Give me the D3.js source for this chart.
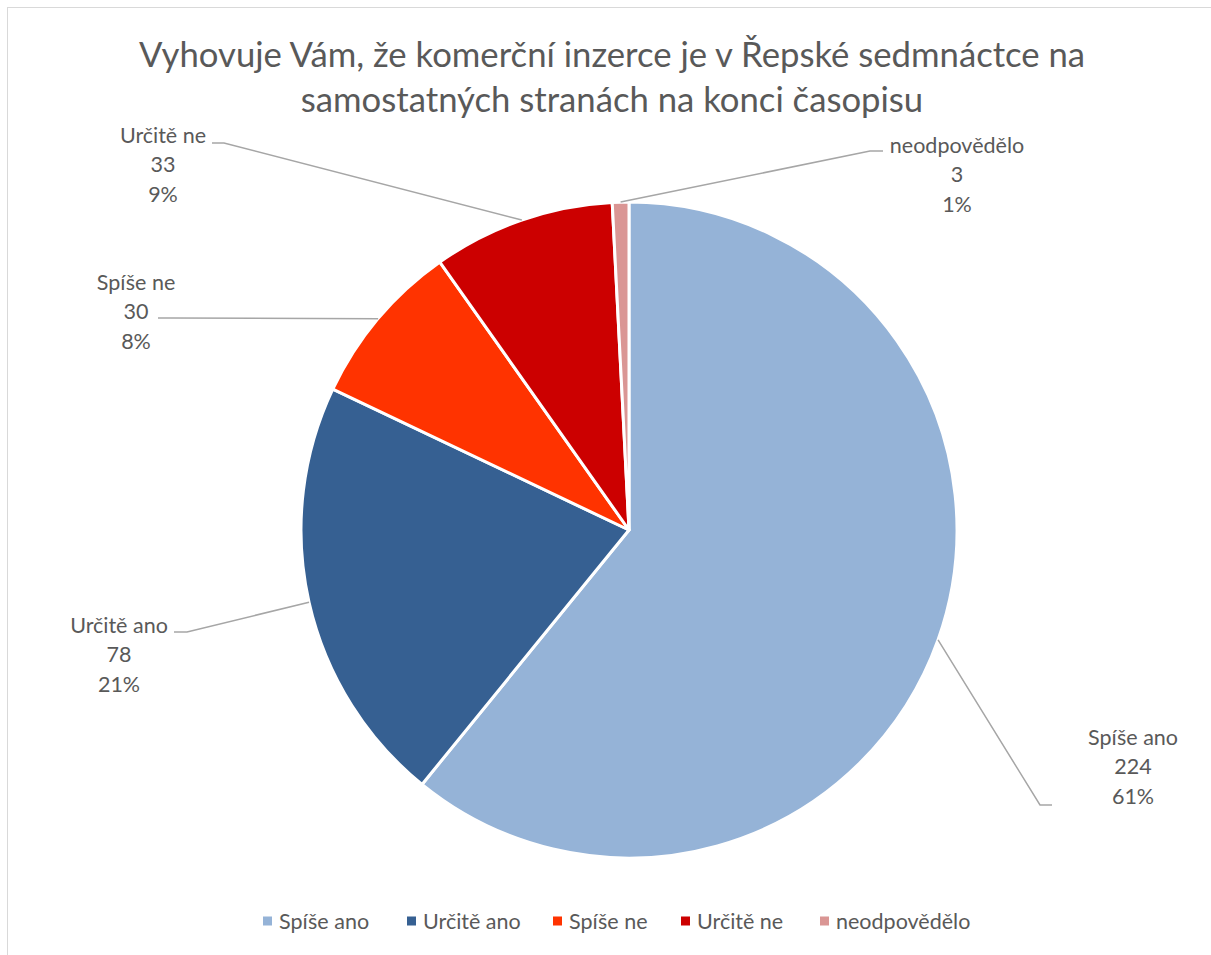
<!DOCTYPE html>
<html>
<head>
<meta charset="utf-8">
<script src="https://cdn.jsdelivr.net/npm/d3@7"></script>
<style>
	body { margin: 0; background: #fff; }
	text { font-family: Lato, "Open Sans", sans-serif; fill: #595959; }
</style>
</head>
<body>
<div id="chart"></div>
<script>
var categories = ['Spíše ano', 'Určitě ano', 'Spíše ne', 'Určitě ne', 'neodpovědělo']
var counts = [224, 78, 30, 33, 3]
var percents = ['61%', '21%', '8%', '9%', '1%']
var colors = ['#95b3d7', '#366092', '#ff3300', '#cc0000', '#da9694']
var titleLines = ['Vyhovuje Vám, že komerční inzerce je v Řepské sedmnáctce na', 'samostatných stranách na konci časopisu']

var width = 1211
var height = 955
var cx = 629, cy = 530, radius = 328

// label placement (outside the pie, like the excel layout)
var labelPos = [
	{x: 1133, y: 737, elbow: [1040, 805], end: [1052, 805]},
	{x: 119, y: 625, elbow: [187, 632], end: [174, 632]},
	{x: 136, y: 282, elbow: [171, 318], end: [158, 318]},
	{x: 163, y: 135, elbow: [224, 143], end: [212, 143]},
	{x: 957, y: 145, elbow: [870, 151], end: [883, 151]}
]

var svg = d3.select('#chart').append('svg')
	.attr('width', width)
	.attr('height', height)

svg.append('rect')
	.attr('x', 7.5).attr('y', 7.5)
	.attr('width', width).attr('height', height)
	.attr('fill', 'none')
	.attr('stroke', '#d9d9d9')

svg.append('g').selectAll('text')
	.data(titleLines)
	.enter().append('text')
	.attr('x', 612)
	.attr('y', function(d, i) { return 55 + i * 45 })
	.attr('dy', '0.35em')
	.attr('text-anchor', 'middle')
	.style('font-size', '34.7px')
	.text(function(d) { return d })

var data = categories.map(function(c, i) {
	return {name: c, value: counts[i], pct: percents[i], color: colors[i], pos: labelPos[i]}
})

var pie = d3.pie().sort(null).value(function(d) { return d.value })
var arc = d3.arc().innerRadius(0).outerRadius(radius)
var arcs = pie(data)

var chartInner = svg.append('g')
	.attr('transform', 'translate(' + cx + ',' + cy + ')')

chartInner.selectAll('path')
	.data(arcs)
	.enter().append('path')
	.attr('d', arc)
	.attr('fill', function(d) { return d.data.color })
	.attr('stroke', '#fff')
	.attr('stroke-width', 3)
	.attr('stroke-linejoin', 'round')

// leader lines
svg.append('g').selectAll('polyline')
	.data(arcs)
	.enter().append('polyline')
	.attr('fill', 'none')
	.attr('stroke', '#a6a6a6')
	.attr('stroke-width', 1.5)
	.attr('points', function(d) {
		var a = (d.startAngle + d.endAngle) / 2
		var sx = cx + radius * Math.sin(a)
		var sy = cy - radius * Math.cos(a)
		var p = d.data.pos
		return [[sx, sy], p.elbow, p.end].map(function(q) { return q.join(',') }).join(' ')
	})

var labels = svg.append('g').selectAll('g')
	.data(data)
	.enter().append('g')

labels.each(function(d) {
	var g = d3.select(this)
	var lines = [d.name, d.value, d.pct]
	lines.forEach(function(t, i) {
		g.append('text')
			.attr('x', d.pos.x)
			.attr('y', d.pos.y + i * 29.5)
			.attr('dy', '0.35em')
			.attr('text-anchor', 'middle')
			.style('font-size', '21.5px')
			.text(t)
	})
})

// legend
var legendX = [263, 407, 553, 681, 820]
var legend = svg.append('g').selectAll('g')
	.data(data)
	.enter().append('g')
	.attr('transform', function(d, i) { return 'translate(' + legendX[i] + ',921)' })

legend.append('rect')
	.attr('x', 0).attr('y', -4.5)
	.attr('width', 9).attr('height', 9)
	.attr('fill', function(d) { return d.color })

legend.append('text')
	.attr('x', 16)
	.attr('dy', '0.35em')
	.style('font-size', '21.5px')
	.text(function(d) { return d.name })
</script>
</body>
</html>
